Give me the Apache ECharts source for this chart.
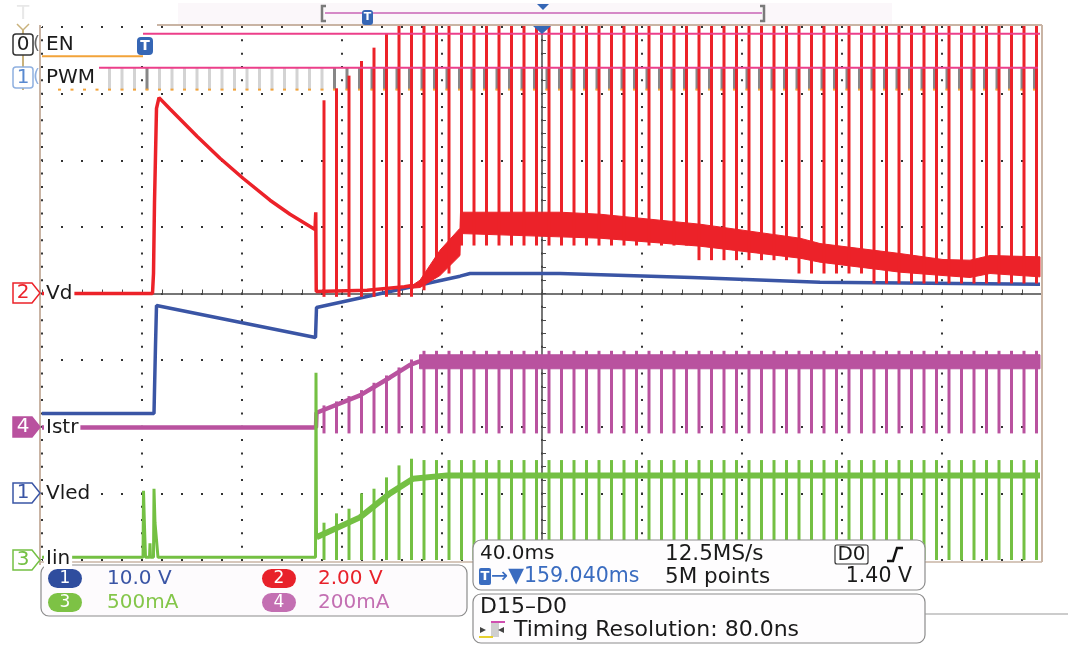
<!DOCTYPE html>
<html>
<head>
<meta charset="utf-8">
<script src="https://cdn.jsdelivr.net/npm/echarts/dist/echarts.min.js"></script>
<style>
  html, body { margin: 0; padding: 0; background: #fff; }
  #chart { width: 1070px; height: 645px; }
</style>
</head>
<body>
<div id="chart"></div>
<script>
// Scope capture: time in ms from screen centre (40 ms/div), level in divisions from centre

// PWM clock edges (digital ch1), red/purple/green spikes sit on the same edges
const pwmTimes = [-193, -188, -183, -178, -173, -168, -163, -158, -153, -148, -143, -138, -133,
    -128, -123, -118, -113, -108, -103, -98, -93, -88, -83, -78, -73, -68, -63, -58, -53, -48,
    -43, -38, -33, -28, -23, -18, -13, -8, -3, 2, 7, 12, 17, 22, 27, 32, 37, 42, 47, 52, 57,
    62, 67, 72, 77, 82, 87, 92, 97, 102, 107, 112, 117, 122, 127, 132, 137, 142, 147, 152,
    157, 162, 167, 172, 177, 182, 187, 192, 197];
const pwmBarFrom = -173;
const pwmDarkFrom = -83;
const pwmDarkExtra = [-158];
const pwmLevels = [3.06, 3.39];       // low, high
const spikeFrom = -88;
const spikeDelay = 0.8;

// EN (digital ch0)
const enLowTime = [-200, -159.6];
const enLowLevel = [3.56, 3.56];
const enHighTime = [-159.6, 199.2];
const enHighLevel = [3.9, 3.9];
const pwmHighTime = [-177.2, 198.4];

// Vd (ch2, red)
const vdTime = [-200, -155.8, -155.4, -155.0, -154.2, -153.2, -148.8, -138, -128.8, -119.6,
    -108.8, -100.8, -90.8, -90.5, -90.3, -70, -55, -52];
const vdLevel = [0, 0, 0.3, 1.37, 2.78, 2.94, 2.77, 2.36, 2.03, 1.73, 1.40, 1.19, 0.96, 1.22,
    0.03, 0.05, 0.1, 0.12];
const vdBandTime = [-52, -48.8, -40.8, -32.8, -32.6, 7.2, 23.2, 63.2, 103.2, 111.2, 143.2,
    160.4, 171.2, 179.2, 199.2];
const vdBandTop = [0.12, 0.20, 0.65, 0.98, 1.22, 1.22, 1.19, 1.04, 0.83, 0.75, 0.60, 0.51,
    0.50, 0.57, 0.55];
const vdBandBottom = [0.08, 0.09, 0.27, 0.57, 0.90, 0.85, 0.83, 0.71, 0.53, 0.47, 0.32, 0.27,
    0.24, 0.30, 0.25];
const vdSpikeTop = [2.90, 3.08, 3.27, 3.49, 3.69, 3.90];
const vdSpikeTopRest = 4.03;
const vdSpikeLowSteps = [[-88, -0.05], [-50, 0.05], [-45, 0.3], [-35, 0.72], [60, 0.5],
    [100, 0.3], [130, 0.15]];

// Vled (ch1, blue)
const vledTime = [-200, -155.2, -155.0, -154.6, -154.2, -90.6, -90.2, -32.8, -28.8, 7.2, 60,
    111.2, 199.2];
const vledLevel = [-1.80, -1.80, -1.45, -0.78, -0.18, -0.66, -0.21, 0.26, 0.30, 0.30, 0.24,
    0.17, 0.14];

// Istr (ch4, purple)
const istrTime = [-200, -90.4, -90.2, -72.8, -60.8, -52.8, -49];
const istrLevel = [-2.01, -2.01, -1.79, -1.53, -1.26, -1.07, -1.02];
const istrBandTime = [-49, 199.2];
const istrBandTop = [-0.92, -0.92];
const istrBandBottom = [-1.13, -1.13];
const istrSpikeTop = [-1.68, -1.62, -1.54, -1.45, -1.34, -1.23, -1.11, -0.99];
const istrSpikeTopRest = -0.86;
const istrSpikeLow = -2.10;

// Iin (ch3, green)
const iinTime = [-200, -159.6, -159.4, -159.0, -158.6, -157.0, -156.8, -156.6, -155.4, -155.2,
    -154.8, -154.0, -153.6, -90.6, -90.4, -90.2];
const iinLevel = [-3.96, -3.96, -2.96, -3.5, -3.96, -3.96, -3.75, -3.96, -3.96, -2.93, -3.44,
    -3.44, -3.96, -3.96, -1.19, -3.66];
const iinRampTime = [-90.2, -72.8, -60.8, -51.6, -38, 199.2];
const iinRampLevel = [-3.66, -3.36, -3.0, -2.78, -2.73, -2.73];
const iinSpikeTop = [-3.44, -3.30, -3.23, -3.00, -2.93, -2.76, -2.58, -2.48];
const iinSpikeTopRest = -2.5;
const iinSpikeLow = -4.0;

const FONT = '"DejaVu Sans", sans-serif';
const RED = '#ec2229';
const BLUE = '#3a55a5';
const PURPLE = '#b9529f';
const GREEN = '#74c043';
const PINK = '#ec3f8a';
const ORANGE = '#f2a33a';

function pairs(times, levels) {
    return times.map((t, i) => [t, levels[i]]);
}

function stepValue(steps, t) {
    let v = steps[0][1];
    steps.forEach(s => { if (t >= s[0]) v = s[1]; });
    return v;
}

function lineSeries(name, data, color, width, z) {
    return {
        name: name, type: 'line', data: data, symbol: 'none', silent: true, z: z,
        lineStyle: { color: color, width: width }, itemStyle: { color: color }
    };
}

function bandSeries(name, times, top, bottom, color, z) {
    return {
        name: name, type: 'custom', silent: true, z: z,
        data: times.map((t, i) => [t, bottom[i], top[i]]),
        encode: { x: 0, y: [1, 2] },
        renderItem: function (params, api) {
            if (params.dataIndex !== 0) return null;
            const pts = [];
            times.forEach((t, i) => pts.push(api.coord([t, top[i]])));
            for (let i = times.length - 1; i >= 0; i--) pts.push(api.coord([times[i], bottom[i]]));
            return { type: 'polygon', shape: { points: pts }, style: { fill: color, stroke: color, lineWidth: 1 } };
        }
    };
}

function spikeSeries(name, data, color, width, z) {
    return {
        name: name, type: 'custom', silent: true, z: z, clip: false,
        data: data, encode: { x: 0, y: [1, 2] },
        renderItem: function (params, api) {
            const a = api.coord([api.value(0), api.value(1)]);
            const b = api.coord([api.value(0), api.value(2)]);
            return { type: 'line', shape: { x1: a[0], y1: a[1], x2: b[0], y2: b[1] },
                     style: { stroke: color, lineWidth: width } };
        }
    };
}

const spikeTimes = pwmTimes.filter(t => t >= spikeFrom);
const vdSpikes = spikeTimes.map((t, i) => [t + spikeDelay, stepValue(vdSpikeLowSteps, t),
    i < vdSpikeTop.length ? vdSpikeTop[i] : vdSpikeTopRest]);
const istrSpikes = spikeTimes.map((t, i) => [t + spikeDelay, istrSpikeLow,
    i < istrSpikeTop.length ? istrSpikeTop[i] : istrSpikeTopRest]);
const iinSpikes = spikeTimes.map((t, i) => [t + spikeDelay, iinSpikeLow,
    i < iinSpikeTop.length ? iinSpikeTop[i] : iinSpikeTopRest]);

const pwmSeries = {
    name: 'PWM edges', type: 'custom', silent: true, z: 3,
    data: pwmTimes.map(t => [t]),
    encode: { x: 0 },
    renderItem: function (params, api) {
        const t = api.value(0);
        const lo = api.coord([t, pwmLevels[0]]);
        const hi = api.coord([t, pwmLevels[1]]);
        const dark = t >= pwmDarkFrom || pwmDarkExtra.indexOf(t) >= 0;
        const children = [];
        if (t >= pwmBarFrom) {
            children.push({ type: 'line', shape: { x1: lo[0], y1: lo[1], x2: hi[0], y2: hi[1] },
                            style: { stroke: dark ? '#878787' : '#d3d3d3', lineWidth: 3 } });
        }
        children.push({ type: 'rect', shape: { x: lo[0] - 1.5, y: lo[1] - 1, width: 3, height: 2 },
                        style: { fill: ORANGE } });
        return { type: 'group', children: children };
    }
};

// ---- overlay (labels, readouts) ----
function text(x, y, str, color, size, extra) {
    return {
        type: 'text', x: x, y: y, z: 100, silent: true,
        style: Object.assign({
            text: str, fill: color, font: size + 'px ' + FONT,
            align: 'left', textAlign: 'left', verticalAlign: 'middle', textVerticalAlign: 'middle'
        }, extra || {})
    };
}
function rect(x, y, w, h, r, fill, stroke, lw, z) {
    return { type: 'rect', z: z || 90, silent: true, shape: { x: x, y: y, width: w, height: h, r: r },
             style: { fill: fill, stroke: stroke || null, lineWidth: lw || 0 } };
}
function seg(x1, y1, x2, y2, color, lw, z) {
    return { type: 'line', z: z || 90, silent: true, shape: { x1: x1, y1: y1, x2: x2, y2: y2 },
             style: { stroke: color, lineWidth: lw } };
}
function poly(points, fill, stroke, lw, z) {
    return { type: 'polygon', z: z || 90, silent: true, shape: { points: points },
             style: { fill: fill, stroke: stroke || null, lineWidth: lw || 0 } };
}
function centred(x, y, str, color, size, weight) {
    return text(x, y, str, color, size, { align: 'center', textAlign: 'center',
        font: (weight || 'normal') + ' ' + size + 'px ' + FONT });
}

const overlay = [];
const FRAME = '#c9b4a4';

// frame
overlay.push(seg(40, 25, 40, 565, FRAME, 2, 50));
overlay.push(seg(157, 25, 1042, 25, FRAME, 2, 50));
overlay.push(seg(1042, 25, 1042, 562, FRAME, 2, 50));
overlay.push(seg(40, 562, 1042, 562, FRAME, 1.5, 50));

// top strip with the record window
overlay.push(rect(178, 3, 714, 21, 0, '#fbf7fa', null, 0, 40));
overlay.push({ type: 'polyline', z: 90, silent: true, shape: { points: [[326, 6], [322, 6], [322, 21], [326, 21]] },
               style: { stroke: '#7a7a7a', lineWidth: 2.5, fill: null } });
overlay.push({ type: 'polyline', z: 90, silent: true, shape: { points: [[760, 6], [764, 6], [764, 21], [760, 21]] },
               style: { stroke: '#7a7a7a', lineWidth: 2.5, fill: null } });
overlay.push(seg(325, 13, 762, 13, '#c865b6', 1.5, 89));
overlay.push(rect(362, 10, 11, 15, 3, '#3566b5', null, 0, 91));
overlay.push(centred(367.5, 17.5, 'T', '#fff', 11, 'bold'));
overlay.push(poly([[537, 4], [549, 4], [543, 10]], '#3566b5'));
overlay.push(poly([[533, 26], [551, 26], [542, 34]], '#3566b5'));

// trigger marker on the plot
overlay.push(rect(137, 37, 16, 18, 4, '#3566b5', null, 0, 91));
overlay.push(centred(145, 46, 'T', '#fff', 14, 'bold'));
overlay.push(text(17, 14, 'T', '#e8e8e8', 20));

// digital channel tags
overlay.push(seg(23, 30, 23, 90, '#c9b27c', 2, 80));
overlay.push(seg(17, 24, 23, 30, '#c9b27c', 1.5, 80));
overlay.push(seg(29, 24, 23, 30, '#c9b27c', 1.5, 80));
overlay.push(rect(13, 34, 20, 21, 3, '#fff', '#333', 1.5));
overlay.push(centred(23, 45, '0', '#222', 20));
overlay.push(text(33, 44, '(', '#666', 18));
overlay.push(rect(13, 67, 20, 21, 3, '#fff', '#8fb0e0', 1.5));
overlay.push(centred(23, 78, '1', '#5a8ad0', 20));
overlay.push(text(33, 77, '(', '#8fb0e0', 18));

// analog channel tags
[['2', 293, RED, false], ['4', 427, PURPLE, true], ['1', 493, BLUE, false], ['3', 560, GREEN, false]]
    .forEach(function (m) {
        const h = m[1];
        overlay.push(poly([[13, h - 10], [32, h - 10], [40, h], [32, h + 10], [13, h + 10]],
            m[3] ? m[2] : '#fff', m[2], 1.5, 92));
        overlay.push(centred(23, h, m[0], m[3] ? '#fff' : m[2], 20));
    });

// trace names
[['EN', 45], ['PWM', 78], ['Vd', 294], ['Istr', 428], ['Vled', 494], ['Iin', 559]].forEach(function (l) {
    overlay.push(text(44, l[1], l[0], '#1a1a1a', 20, { backgroundColor: '#fff', padding: [0, 2] }));
});

// channel scale box
overlay.push(rect(41, 565, 426, 51, 8, '#fdfbfd', '#8c8c8c', 1.2, 95));
[[48, 569, '1', '#2f4d9e', 107, '10.0 V', '#3a55a5'],
 [262, 569, '2', '#e8212a', 318, '2.00 V', '#e8212a'],
 [48, 593, '3', '#7dc245', 107, '500mA', '#84c64a'],
 [262, 593, '4', '#c36fb2', 318, '200mA', '#c36fb2']].forEach(function (p) {
    overlay.push(rect(p[0], p[1], 34, 19, 9.5, p[3], null, 0, 96));
    overlay.push(centred(p[0] + 17, p[1] + 9.5, p[2], '#fff', 17));
    overlay.push(text(p[4], p[1] + 9.5, p[5], p[6], 20));
});

// timebase / trigger readout
overlay.push(rect(473, 540, 452, 50, 8, '#fefdfe', '#8c8c8c', 1.2, 95));
overlay.push(text(480, 554, '40.0ms', '#1a1a1a', 20));
overlay.push(text(665, 554, '12.5MS/s', '#1a1a1a', 21.5));
overlay.push(rect(835, 545, 33, 19, 2, '#fff', '#333', 1.2, 96));
overlay.push(centred(851.5, 555, 'D0', '#1a1a1a', 20));
overlay.push({ type: 'polyline', z: 97, silent: true,
               shape: { points: [[887, 561], [893, 561], [897, 548], [903, 548]] },
               style: { stroke: '#111', lineWidth: 2.5, fill: null } });
overlay.push(rect(479, 568, 12, 17, 2, '#3a6cc0', null, 0, 96));
overlay.push(centred(485, 576.5, 'T', '#fff', 13, 'bold'));
overlay.push(text(491, 577, '\u2192\u25BC159.040ms', '#3a6cc0', 20.5));
overlay.push(text(665, 577, '5M points', '#1a1a1a', 21.5));
overlay.push(text(912, 577, '1.40 V', '#1a1a1a', 20.5, { align: 'right', textAlign: 'right' }));

// digital readout
overlay.push(rect(473, 594, 452, 49, 8, '#fefdfe', '#8c8c8c', 1.2, 95));
overlay.push(text(480, 607, 'D15\u2013D0', '#1a1a1a', 22));
overlay.push(rect(491, 622, 8, 15, 0, '#cfcfcf', null, 0, 96));
overlay.push(seg(491, 622, 505, 622, '#d04fb0', 2, 97));
overlay.push(seg(479, 637, 493, 637, '#e6d030', 2, 97));
overlay.push(poly([[480, 627], [486, 630], [480, 633]], '#444', null, 0, 97));
overlay.push(poly([[504, 627], [498, 630], [504, 633]], '#444', null, 0, 97));
overlay.push(text(514, 630, 'Timing Resolution: 80.0ns', '#1a1a1a', 22));
overlay.push(seg(925, 614, 1068, 614, '#9a9a9a', 1.2, 95));

const chart = echarts.init(document.getElementById('chart'));

const option = {
    backgroundColor: '#ffffff',
    animation: false,
    grid: { left: 42, right: 28, top: 27, bottom: 85, containLabel: false, outerBoundsMode: 'none' },
    xAxis: {
        type: 'value', min: -200, max: 200, interval: 40,
        axisLabel: { show: false },
        axisLine: { show: true, onZero: true, lineStyle: { color: '#4a4a4a', width: 1.5 } },
        axisTick: { show: true, inside: true, length: 4, lineStyle: { color: '#4a4a4a' } },
        minorTick: { show: true, splitNumber: 5, length: 4, lineStyle: { color: '#4a4a4a' } },
        splitLine: { show: true, lineStyle: { color: '#333', width: 2, type: [2, 11.325], dashOffset: 1 } }
    },
    yAxis: {
        type: 'value', min: -4, max: 4, interval: 1,
        axisLabel: { show: false },
        axisLine: { show: true, onZero: true, lineStyle: { color: '#4a4a4a', width: 1.5 } },
        axisTick: { show: true, inside: true, length: 4, lineStyle: { color: '#4a4a4a' } },
        minorTick: { show: true, splitNumber: 5, length: 4, lineStyle: { color: '#4a4a4a' } },
        splitLine: { show: true, lineStyle: { color: '#333', width: 2, type: [2, 18], dashOffset: 1 } }
    },
    series: [
        lineSeries('Vled', pairs(vledTime, vledLevel), BLUE, 3.5, 3),
        lineSeries('Vd', pairs(vdTime, vdLevel), RED, 3.5, 4),
        bandSeries('Vd band', vdBandTime, vdBandTop, vdBandBottom, RED, 4),
        spikeSeries('Vd spikes', vdSpikes, RED, 3, 5),
        lineSeries('Istr', pairs(istrTime, istrLevel), PURPLE, 4.5, 3),
        bandSeries('Istr band', istrBandTime, istrBandTop, istrBandBottom, PURPLE, 3),
        spikeSeries('Istr spikes', istrSpikes, PURPLE, 3, 3),
        lineSeries('Iin', pairs(iinTime, iinLevel), GREEN, 3, 3),
        lineSeries('Iin ramp', pairs(iinRampTime, iinRampLevel), GREEN, 6, 3),
        spikeSeries('Iin spikes', iinSpikes, GREEN, 3, 3),
        pwmSeries,
        lineSeries('EN low', pairs(enLowTime, enLowLevel), ORANGE, 2, 6),
        lineSeries('EN high', pairs(enHighTime, enHighLevel), PINK, 2, 6),
        lineSeries('PWM high', pairs(pwmHighTime, [pwmLevels[1], pwmLevels[1]]), PINK, 2, 6)
    ],
    graphic: { elements: overlay }
};

chart.setOption(option);
</script>
</body>
</html>
